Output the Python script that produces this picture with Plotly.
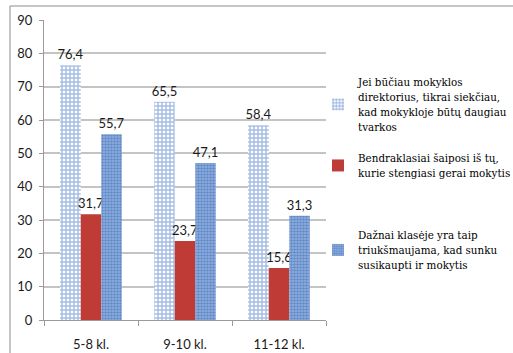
import plotly.graph_objects as go

# Survey results by grade group (percent)
categories = ["5-8 kl.", "9-10 kl.", "11-12 kl."]
series_names = [
    "Jei būčiau mokyklos<br>direktorius, tikrai siekčiau,<br>kad mokykloje būtų daugiau<br>tvarkos",
    "Bendraklasiai šaiposi iš tų,<br>kurie stengiasi gerai mokytis",
    "Dažnai klasėje yra taip<br>triukšmaujama, kad sunku<br>susikaupti ir mokytis",
]
order_values = [76.4, 65.5, 58.4]
mocking_values = [31.7, 23.7, 15.6]
noise_values = [55.7, 47.1, 31.3]
y_ticks = [0, 10, 20, 30, 40, 50, 60, 70, 80, 90]

label_font = dict(family="Lato", size=13, color="#1a1a1a")
legend_font = dict(family="DejaVu Serif Condensed, DejaVu Serif", size=11.5, color="#000000")

fig = go.Figure()

fig.add_trace(go.Bar(
    x=categories, y=order_values, name=series_names[0], legend="legend",
    marker=dict(color="#ffffff", line=dict(width=0),
                pattern=dict(shape="+", fgcolor="#4a7cc8", bgcolor="#ffffff",
                             size=4, solidity=0.6)),
    texttemplate="%{y:.1f}", textposition="outside", textfont=label_font,
    constraintext="none", cliponaxis=False,
))
fig.add_trace(go.Bar(
    x=categories, y=mocking_values, name=series_names[1], legend="legend2",
    marker=dict(color="#bf3b35", line=dict(width=0)),
    texttemplate="%{y:.1f}", textposition="outside", textfont=label_font,
    constraintext="none", cliponaxis=False,
))
fig.add_trace(go.Bar(
    x=categories, y=noise_values, name=series_names[2], legend="legend3",
    marker=dict(color="#7fa3dc", line=dict(width=0),
                pattern=dict(shape=".", fgcolor="#335fa8", bgcolor="#94b4e4",
                             size=3, solidity=0.6)),
    texttemplate="%{y:.1f}", textposition="outside", textfont=label_font,
    constraintext="none", cliponaxis=False,
))

# pixel helpers for the plot area (44..326 horizontally, 20..320 vertically)
L, R, T, B = 44, 326, 20, 320
def px_x(p):
    return (p - L) / (R - L)
def px_y(p):
    return (B - p) / (B - T)

legend_common = dict(font=legend_font, bgcolor="rgba(0,0,0,0)", borderwidth=0,
                     xanchor="left", yanchor="top", itemwidth=30,
                     itemclick=False, itemdoubleclick=False)

fig.update_layout(
    width=513, height=353,
    margin=dict(l=L, r=513 - R, t=T, b=353 - B, autoexpand=False),
    paper_bgcolor="white", plot_bgcolor="white",
    font=dict(family="DejaVu Serif Condensed, DejaVu Serif", size=11.5, color="#000000"),
    separators=", ",
    barmode="group", bargap=0.345, bargroupgap=0,
    showlegend=True,
    legend=dict(x=px_x(318), y=px_y(68), **legend_common),
    legend2=dict(x=px_x(318), y=px_y(144), **legend_common),
    legend3=dict(x=px_x(318), y=px_y(221), **legend_common),
    xaxis=dict(
        type="category", showgrid=False, showline=True, linecolor="#9a9a9a",
        linewidth=1, ticks="outside", tickson="boundaries", ticklen=5,
        tickcolor="#9a9a9a", tickfont=label_font, ticklabelstandoff=12,
        range=[-0.5, 2.5], fixedrange=True, automargin=False,
    ),
    yaxis=dict(
        range=[0, 90], tickvals=y_ticks, showgrid=True, gridcolor="#c4c4c4",
        gridwidth=1.5, showline=True, linecolor="#9a9a9a", linewidth=1,
        ticks="outside", ticklen=4, tickcolor="#9a9a9a", tickfont=label_font,
        ticklabelstandoff=4, zeroline=False, fixedrange=True, automargin=False,
    ),
    shapes=[
        # chart frame (top and left edges)
        dict(type="line", xref="paper", yref="paper",
             x0=px_x(10), x1=px_x(520), y0=px_y(6), y1=px_y(6),
             line=dict(color="#8c8c8c", width=1)),
        dict(type="line", xref="paper", yref="paper",
             x0=px_x(10), x1=px_x(10), y0=px_y(6), y1=px_y(360),
             line=dict(color="#8c8c8c", width=1)),
    ],
)

fig.write_html("out.html")
